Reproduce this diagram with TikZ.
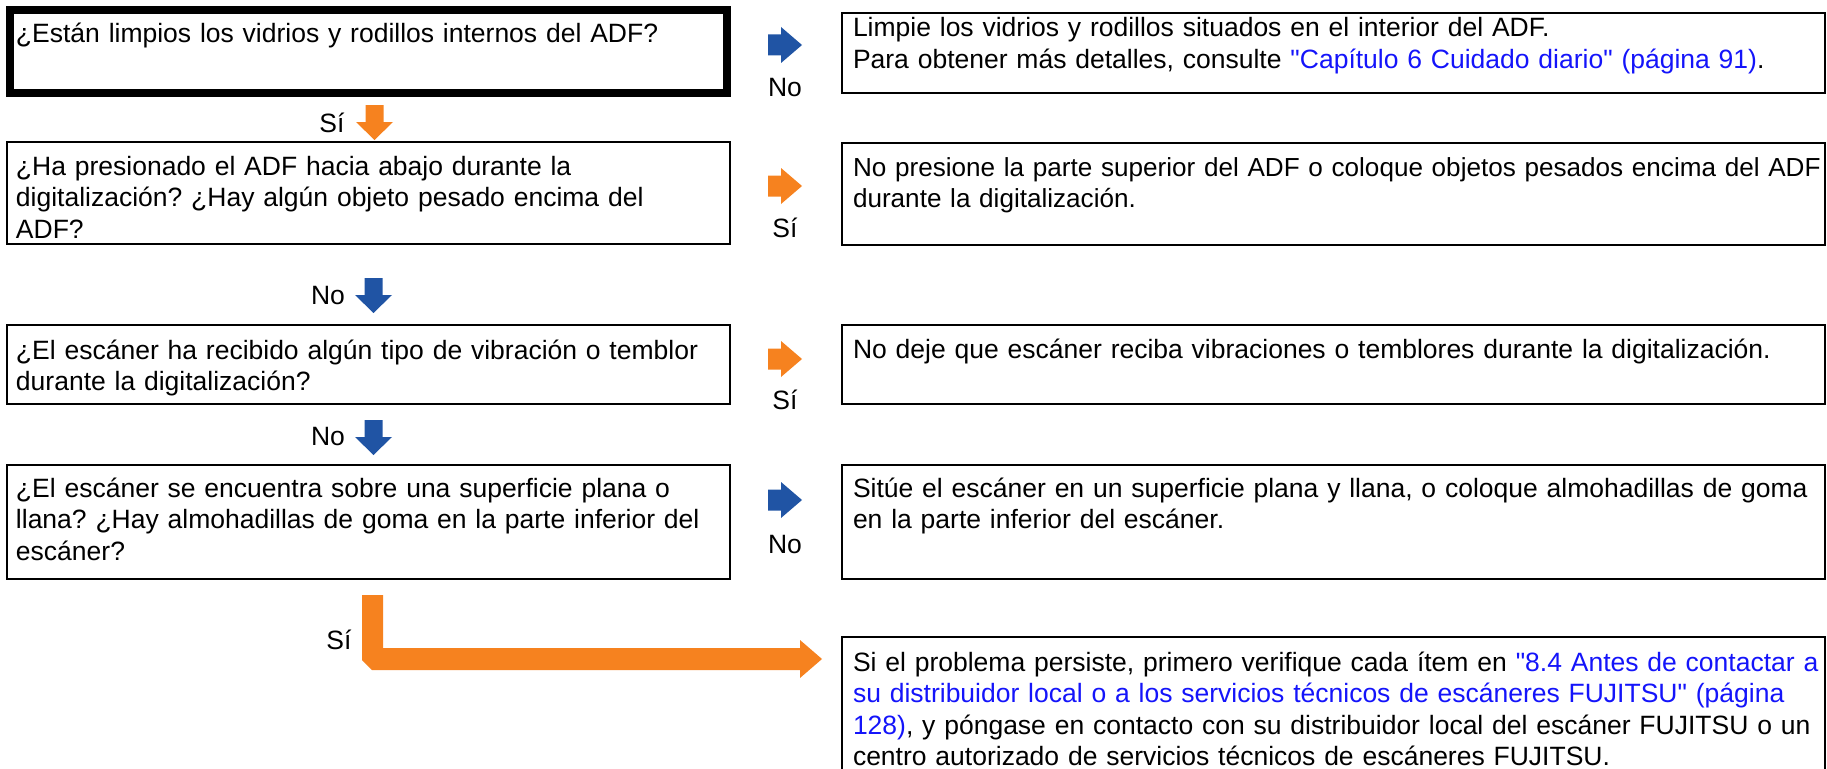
\documentclass[tikz,border=0pt]{standalone}
\usepackage{fontspec}
\setmainfont{Liberation Sans}[Ligatures=TeXOff]
\definecolor{fjblue}{RGB}{32,84,164}
\definecolor{fjorange}{RGB}{246,130,31}
\definecolor{linkblue}{RGB}{20,20,250}
\newcommand{\lnk}[1]{\textcolor{linkblue}{#1}}
\frenchspacing
\begin{document}
\begin{tikzpicture}[x=1pt,y=-1pt,
  box/.style={draw=black, line width=2.2pt, outer sep=0pt, inner sep=0pt, anchor=north west, rectangle},
  thickbox/.style={box, line width=8pt},
  txt/.style={anchor=north west, inner sep=0pt, outer sep=0pt, align=left, font=\fontsize{26.5}{31.5}\selectfont},
  lbl/.style={inner sep=0pt, font=\fontsize{26.5}{31.5}\selectfont},
  downarr/.pic={\fill (-9,0) -- (9,0) -- (9,17) -- (18.5,17) -- (0,35) -- (-18.5,17) -- (-9,17) -- cycle;},
  rightarr/.pic={\fill (0,-10.5) -- (13,-10.5) -- (13,-18) -- (34,0) -- (13,18) -- (13,10.5) -- (0,10.5) -- cycle;},
]
\useasboundingbox (0,0) rectangle (1827,768);

% question boxes (left)
\node[thickbox, minimum width=717pt, minimum height=83pt] (q1) at (10,10) {};
\node[box, minimum width=723pt, minimum height=102pt] (q2) at (7,142) {};
\node[box, minimum width=723pt, minimum height=79pt] (q3) at (7,325) {};
\node[box, minimum width=723pt, minimum height=114pt] (q4) at (7,465) {};

% answer boxes (right)
\node[box, minimum width=983pt, minimum height=80pt] (r1) at (842,13) {};
\node[box, minimum width=983pt, minimum height=102pt] (r2) at (842,143) {};
\node[box, minimum width=983pt, minimum height=79pt] (r3) at (842,325) {};
\node[box, minimum width=983pt, minimum height=114pt] (r4) at (842,465) {};
\node[box, minimum width=983pt, minimum height=140pt] (r5) at (842,637) {};

% texts
\node[txt, text width=712pt] (q1t) at (16,{43-22.05}) {\strut ¿Están limpios los vidrios y rodillos internos del ADF?};
\node[txt, text width=712pt] (q2t) at (16,{175-22.05}) {\strut ¿Ha presionado el ADF hacia abajo durante la\\ digitalización? ¿Hay algún objeto pesado encima del\\ ADF?};
\node[txt, text width=712pt] (q3t) at (16,{359-22.05}) {\strut ¿El escáner ha recibido algún tipo de vibración o temblor\\ durante la digitalización?};
\node[txt, text width=712pt] (q4t) at (16,{497-22.05}) {\strut ¿El escáner se encuentra sobre una superficie plana o\\ llana? ¿Hay almohadillas de goma en la parte inferior del\\ escáner?};

\node[txt, text width=968pt] (r1t) at (853,{37-22.05}) {\strut Limpie los vidrios y rodillos situados en el interior del ADF.\\ Para obtener más detalles, consulte \lnk{"Capítulo 6 Cuidado diario" (página 91)}.};
\node[txt, text width=968pt, font=\fontsize{26.1}{31.5}\selectfont] (r2t) at (853,{176-22.05}) {\strut No presione la parte superior del ADF o coloque objetos pesados encima del ADF\\ durante la digitalización.};
\node[txt, text width=968pt] (r3t) at (853,{358-22.05}) {\strut No deje que escáner reciba vibraciones o temblores durante la digitalización.};
\node[txt, text width=968pt] (r4t) at (853,{497-22.05}) {\strut Sitúe el escáner en un superficie plana y llana, o coloque almohadillas de goma\\ en la parte inferior del escáner.};
\node[txt, text width=968pt] (r5t) at (853,{671-22.05}) {\strut Si el problema persiste, primero verifique cada ítem en \lnk{"8.4 Antes de contactar a}\\ \lnk{su distribuidor local o a los servicios técnicos de escáneres FUJITSU" (página}\\ \lnk{128)}, y póngase en contacto con su distribuidor local del escáner FUJITSU o un\\ centro autorizado de servicios técnicos de escáneres FUJITSU.};

% down arrows with labels
\pic[fjorange] (d1) at (374.5,105) {downarr};
\node[lbl] (d1l) at (332,123) {Sí};
\pic[fjblue] (d2) at (373.5,278) {downarr};
\node[lbl] (d2l) at (328,296) {No};
\pic[fjblue] (d3) at (373.5,420) {downarr};
\node[lbl] (d3l) at (328,437) {No};

% side arrows with labels
\pic[fjblue] (s1) at (768,45) {rightarr};
\node[lbl] (s1l) at (785,88) {No};
\pic[fjorange] (s2) at (768,186) {rightarr};
\node[lbl] (s2l) at (785,228) {Sí};
\pic[fjorange] (s3) at (768,359) {rightarr};
\node[lbl] (s3l) at (785,400) {Sí};
\pic[fjblue] (s4) at (768,500) {rightarr};
\node[lbl] (s4l) at (785,545) {No};

% bent arrow to final box
\node[lbl] (bl) at (339,640) {Sí};
\coordinate (bstart) at (372.5,595);
\coordinate (btip) at (822,659);
\fill[fjorange] (bstart) ++(-10.5,0) -- ++(21,0) -- (383,648) -- (800,648) -- (800,640) -- (btip) -- (800,678) -- (800,670) -- (372,670) -- (362,660) -- cycle;
\end{tikzpicture}
\end{document}
